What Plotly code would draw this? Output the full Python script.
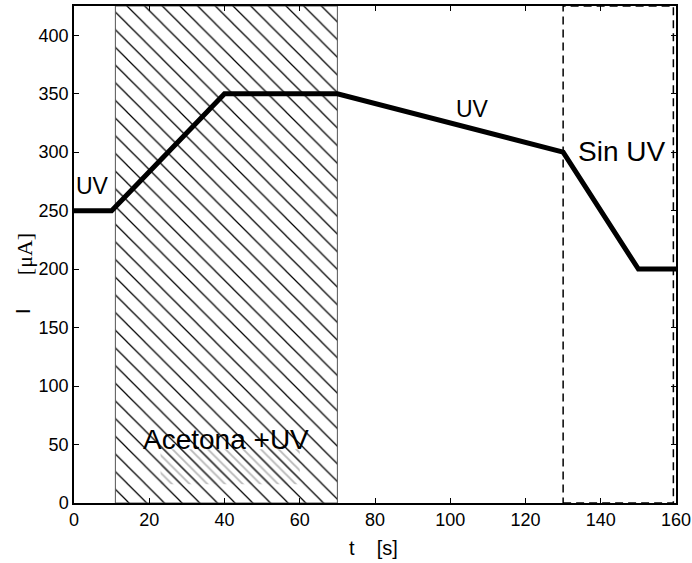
import plotly.graph_objects as go

# Current trace over time
t_s = [0, 10, 40, 70, 130, 150, 160]
i_uA = [250, 250, 350, 350, 300, 200, 200]

# Exposure phases (start, end) in seconds
acetone_phase = [11, 70]
no_uv_phase = [130, 160]

x_ticks = [0, 20, 40, 60, 80, 100, 120, 140, 160]
y_ticks = [0, 50, 100, 150, 200, 250, 300, 350, 400]
y_top = 425

FONT = "Liberation Sans, Arial, sans-serif"

fig = go.Figure()

# Hatched acetone + UV phase
a0, a1 = acetone_phase
fig.add_trace(go.Scatter(
    x=[a0, a1, a1, a0, a0], y=[0, 0, y_top, y_top, 0],
    mode="lines", fill="toself",
    line=dict(color="#555555", width=1),
    fillcolor="white",
    fillpattern=dict(shape="\\", size=12.5, solidity=0.1,
                     fgcolor="black", bgcolor="white", fillmode="replace"),
    hoverinfo="skip", showlegend=False,
))

# Faint grey hatching under the phase label
fig.add_trace(go.Scatter(
    x=[23, 60, 60, 23, 23], y=[16, 16, 46, 46, 16],
    mode="lines", fill="toself", line=dict(width=0, color="rgba(0,0,0,0)"),
    fillpattern=dict(shape="\\", size=6.25, solidity=0.3,
                     fgcolor="rgba(80,80,80,0.8)", bgcolor="rgba(0,0,0,0)"),
    hoverinfo="skip", showlegend=False,
))

# Dashed box for the phase without UV
b0, b1 = no_uv_phase
fig.add_shape(type="rect", x0=b0, x1=b1 - 0.7, y0=0, y1=y_top,
              line=dict(color="black", width=1.5, dash="8px,5px"), layer="above")

# Current curve
fig.add_trace(go.Scatter(
    x=t_s, y=i_uA, mode="lines",
    line=dict(color="black", width=5),
    hoverinfo="skip", showlegend=False,
))

annotations = [
    dict(x=5.0, y=271, text="UV", size=23),
    dict(x=106, y=337, text="UV", size=23),
    dict(x=145.4, y=301, text="Sin UV", size=28),
    dict(x=40.4, y=54, text="Acetona +UV", size=28),
]
for a in annotations:
    fig.add_annotation(x=a["x"], y=a["y"], text=a["text"], showarrow=False,
                       font=dict(family=FONT, size=a["size"], color="black"))

# Axis titles placed as paper-referenced annotations
fig.add_annotation(xref="paper", yref="paper", x=0.498, y=-0.0905,
                   text="t    [s]", showarrow=False, yanchor="middle",
                   font=dict(family=FONT, size=20, color="black"))
fig.add_annotation(xref="paper", yref="paper", x=-0.085, y=(503.5 - 312) / 497,
                   text="I", showarrow=False, textangle=-90,
                   xanchor="center", yanchor="middle",
                   font=dict(family=FONT, size=21, color="black"))
fig.add_annotation(xref="paper", yref="paper", x=-0.082, y=(503.5 - 255) / 497,
                   text="[\u03bcA]", showarrow=False, textangle=-90,
                   xanchor="center", yanchor="middle",
                   font=dict(family="Liberation Serif, Times New Roman, serif",
                             size=22, color="black"))

axis_common = dict(
    showgrid=False, zeroline=False, showline=True, linecolor="black",
    linewidth=1.5, mirror="ticks", ticks="inside", ticklen=5,
    tickcolor="black", tickfont=dict(family=FONT, size=18, color="black"),
    automargin=False,
)

fig.update_xaxes(range=[0, 160], tickvals=x_ticks, **axis_common)
fig.update_yaxes(range=[0, y_top], tickvals=y_ticks, **axis_common)

fig.update_layout(
    width=692, height=563,
    margin=dict(l=74, r=16, t=6, b=60, autoexpand=False),
    plot_bgcolor="white", paper_bgcolor="white",
    font=dict(family=FONT, color="black"),
)

fig.write_html("out.html")
